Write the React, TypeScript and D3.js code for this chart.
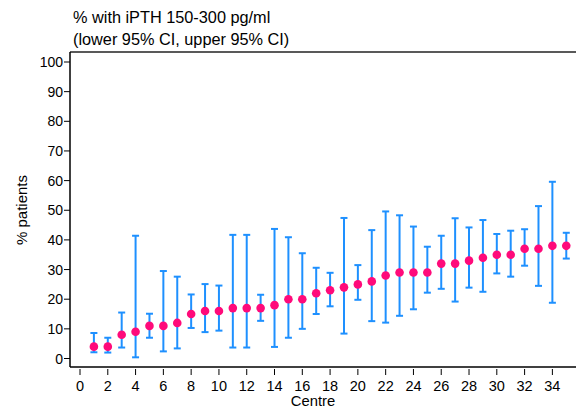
import React from "react";
import * as d3 from "d3";

const centres = d3.range(1, 36);
const pct = [4, 4, 8, 9, 11, 11, 12, 15, 16, 16, 17, 17, 17, 18, 20, 20, 22, 23, 24, 25, 26, 28, 29, 29, 29, 32, 32, 33, 34, 35, 35, 37, 37, 38, 38];
const lower = [2.1, 2.0, 3.7, 0.4, 7.0, 2.4, 3.4, 10.3, 8.9, 9.4, 3.7, 3.7, 12.7, 3.9, 7.0, 10.0, 15.0, 17.6, 8.4, 19.8, 12.6, 12.1, 14.4, 16.6, 22.2, 23.5, 19.2, 23.9, 22.5, 28.7, 27.6, 31.3, 24.5, 18.8, 33.7];
const upper = [8.6, 7.0, 15.5, 41.4, 15.1, 29.5, 27.6, 21.6, 25.1, 24.6, 41.7, 41.7, 21.5, 43.7, 40.9, 35.5, 30.6, 28.9, 47.4, 31.5, 43.3, 49.6, 48.3, 44.5, 37.7, 41.4, 47.3, 44.2, 46.7, 42.0, 43.1, 43.6, 51.4, 59.6, 42.4];
const xTicks = d3.range(0, 35, 2);
const yTicks = d3.range(0, 101, 10);

const W = 576, H = 409;
const left = 70, right = 576, top = 52, bottom = 367;

export default function App() {
  const x = d3.scaleLinear().domain([-0.72, 35.7]).range([left, right]);
  const y = d3.scaleLinear().domain([0, 100]).range([358.5, 62]);
  const font = "'Liberation Sans', Arial, Helvetica, sans-serif";
  const blue = "#1e90ff";
  const pink = "#ff0a7a";
  return (
    <svg width={W} height={H} style={{ position: "absolute", left: 0, top: 0 }} fontFamily={font}>
      <rect x={0} y={0} width={W} height={H} fill="#fff" />
      <text x={73} y={23} fontSize={16.3} fill="#000">% with iPTH 150-300 pg/ml</text>
      <text x={73} y={45} fontSize={16.3} fill="#000">(lower 95% CI, upper 95% CI)</text>
      <line x1={left} x2={right} y1={top} y2={top} stroke="#222" strokeWidth={1.5} />
      <line x1={left} x2={left} y1={top} y2={bottom} stroke="#000" strokeWidth={1.5} />
      <line x1={left} x2={right} y1={bottom} y2={bottom} stroke="#000" strokeWidth={1.5} />
      {yTicks.map((t) => (
        <g key={"y" + t}>
          <line x1={left - 6} x2={left} y1={y(t)} y2={y(t)} stroke="#000" strokeWidth={1} />
          <text x={left - 7} y={y(t)} dy="0.36em" textAnchor="end" fontSize={14}>{t}</text>
        </g>
      ))}
      {xTicks.map((t) => (
        <g key={"x" + t}>
          <line x1={x(t)} x2={x(t)} y1={bottom + 2} y2={bottom + 8} stroke="#000" strokeWidth={1} />
          <text x={x(t)} y={391} textAnchor="middle" fontSize={14.5}>{t}</text>
        </g>
      ))}
      <text x={313} y={406} textAnchor="middle" fontSize={14.8}>Centre</text>
      <text transform={`translate(27,210) rotate(-90)`} textAnchor="middle" fontSize={15}>% patients</text>
      {centres.map((c, i) => (
        <g key={"e" + c}>
          <line x1={x(c)} x2={x(c)} y1={y(lower[i])} y2={y(upper[i])} stroke={blue} strokeWidth={2} />
          <line x1={x(c) - 3.5} x2={x(c) + 3.5} y1={y(lower[i])} y2={y(lower[i])} stroke={blue} strokeWidth={2} />
          <line x1={x(c) - 3.5} x2={x(c) + 3.5} y1={y(upper[i])} y2={y(upper[i])} stroke={blue} strokeWidth={2} />
        </g>
      ))}
      {centres.map((c, i) => (
        <circle key={"p" + c} cx={x(c)} cy={y(pct[i])} r={4.3} fill={pink} />
      ))}
    </svg>
  );
}
